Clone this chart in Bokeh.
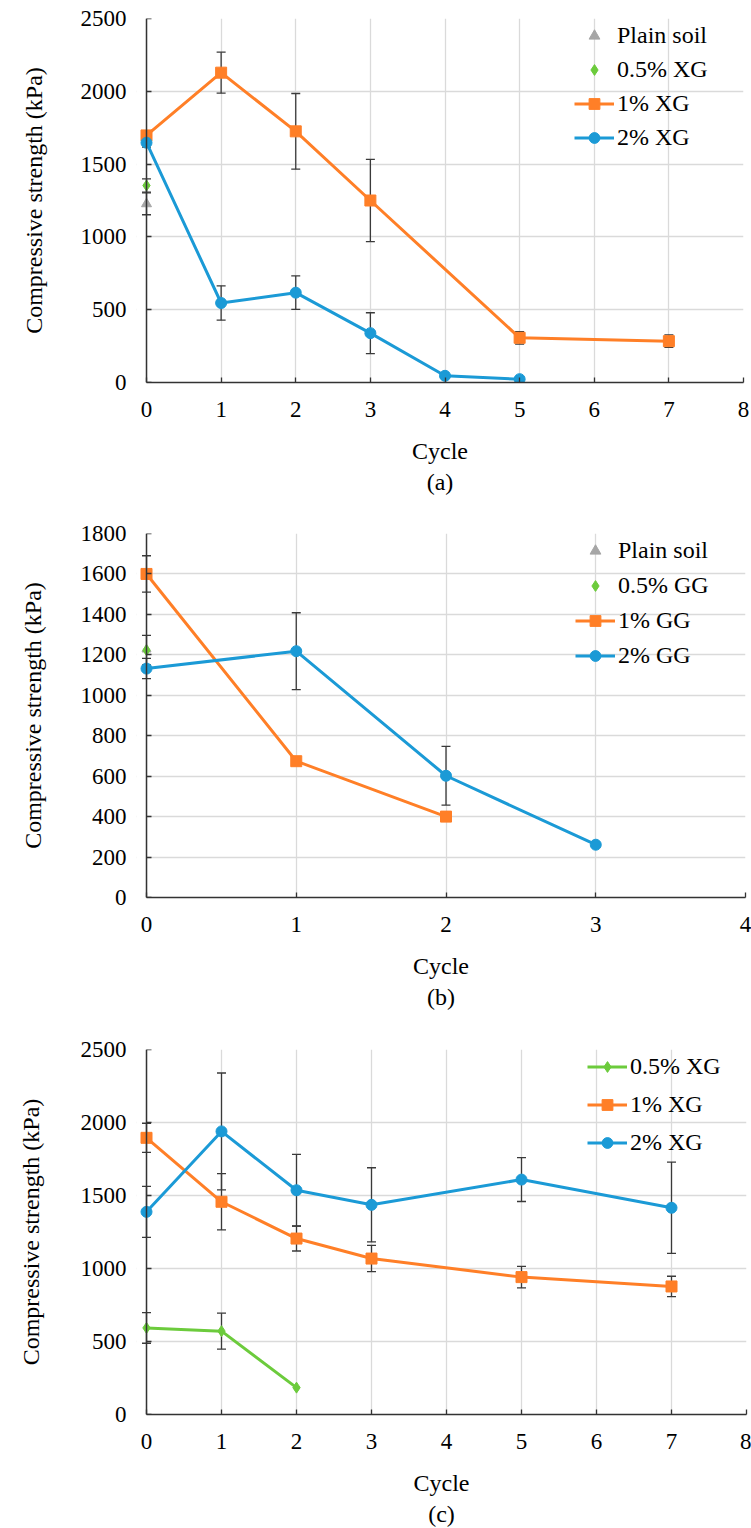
from bokeh.plotting import figure
from bokeh.models import (ColumnDataSource, Whisker, TeeHead, Legend, LegendItem,
                          BoxAnnotation, Title, FixedTicker, Range1d, LinearAxis)
from bokeh.layouts import column
from bokeh.embed import file_html
from bokeh.resources import INLINE

FONT = "'Liberation Serif', 'Times New Roman', serif"
ORANGE = "#FF7F27"
BLUE = "#1B9AD6"
GREEN = "#6CCB3C"
GRAY = "#A6A6A6"
ERRC = "#3A3A3A"
AXC = "#333333"
GRIDC = "#DADADA"

# ---------------- Panel (a): xanthan gum ----------------
a_plain_x = [0]
a_plain_y = [1227]
a_plain_err = [75]
a_xg05_x = [0]
a_xg05_y = [1353]
a_xg05_err = [45]
a_xg1_x = [0, 1, 2, 3, 5, 7]
a_xg1_y = [1697, 2128, 1725, 1250, 307, 284]
a_xg1_err = [30, 141, 260, 282, 43, 43]
a_xg2_x = [0, 1, 2, 3, 4, 5]
a_xg2_y = [1647, 546, 617, 339, 46, 23]
a_xg2_err = [30, 118, 115, 140, 0, 0]
a_labels = ["Plain soil", "0.5% XG", "1% XG", "2% XG"]

# ---------------- Panel (b): guar gum ----------------
b_plain_x = [0]
b_plain_y = [1227]
b_plain_err = [0]
b_gg05_x = [0]
b_gg05_y = [1223]
b_gg05_err = [73]
b_gg1_x = [0, 1, 2]
b_gg1_y = [1600, 674, 400]
b_gg1_err = [90, 0, 0]
b_gg2_x = [0, 1, 2, 3]
b_gg2_y = [1132, 1218, 602, 261]
b_gg2_err = [50, 190, 145, 0]
b_labels = ["Plain soil", "0.5% GG", "1% GG", "2% GG"]

# ---------------- Panel (c): xanthan gum ----------------
c_xg05_x = [0, 1, 2]
c_xg05_y = [593, 571, 184]
c_xg05_err = [105, 123, 0]
c_xg1_x = [0, 1, 2, 3, 5, 7]
c_xg1_y = [1895, 1457, 1205, 1068, 941, 877]
c_xg1_err = [100, 193, 85, 90, 74, 70]
c_xg2_x = [0, 1, 2, 3, 5, 7]
c_xg2_y = [1388, 1939, 1536, 1436, 1609, 1416]
c_xg2_err = [175, 400, 245, 254, 150, 313]
c_labels = ["0.5% XG", "1% XG", "2% XG"]

PAD = 10


def style_axis(ax):
    ax.major_label_text_font = FONT
    ax.major_label_text_font_size = "23px"
    ax.major_label_text_color = "black"
    ax.axis_label_text_font = FONT
    ax.axis_label_text_font_size = "24px"
    ax.axis_label_text_font_style = "normal"
    ax.axis_label_text_color = "black"
    ax.minor_tick_line_color = None


def make_panel(fr_left, fr_right, top_border, fr_height, bottom_border, x_end,
               y_end, y_step, series, legend_xy, legend_spacing, tag,
               ylab_standoff, ylab_shift_px):
    ppu = (fr_right - fr_left) / x_end
    x_start = -PAD / ppu
    fw = fr_right - fr_left + PAD
    mbl = fr_left - PAD
    mbr = 751 - mbl - fw
    yticks = FixedTicker(ticks=list(range(0, y_end + 1, y_step)))
    xticks = FixedTicker(ticks=list(range(0, x_end + 1)))
    p = figure(frame_width=fw, frame_height=fr_height,
               x_range=Range1d(x_start, x_end), y_range=Range1d(0, y_end),
               min_border_left=mbl, min_border_right=mbr,
               min_border_top=top_border, min_border_bottom=bottom_border,
               output_backend="svg", toolbar_location=None,
               background_fill_color="white", border_fill_color="white",
               outline_line_color=None)

    # x axis
    xa = p.xaxis[0]
    xa.ticker = xticks
    style_axis(xa)
    xa.axis_line_color = AXC
    xa.axis_line_width = 1.5
    xa.major_tick_line_color = AXC
    xa.major_tick_line_width = 1.3
    xa.major_tick_in = 5
    xa.major_tick_out = 0
    xa.axis_label = "Cycle"
    xa.bounds = (0, x_end)
    xa.major_label_standoff = 19
    xa.axis_label_standoff = 18

    # y tick labels (at frame edge, PAD px left of x=0)
    ya = p.yaxis[0]
    ya.ticker = yticks
    style_axis(ya)
    ya.axis_line_color = None
    ya.major_tick_line_color = None
    ya.major_tick_in = 0
    ya.major_tick_out = 0
    ya.major_label_standoff = 20 - PAD

    # y axis title, centred a little above the frame centre
    shift = ylab_shift_px / fr_height * y_end
    yt = LinearAxis(ticker=FixedTicker(ticks=[]), axis_line_color=None,
                    major_tick_line_color=None, minor_tick_line_color=None,
                    major_tick_in=0, major_tick_out=0,
                    bounds=(2 * shift, y_end),
                    axis_label="Compressive strength (kPa)",
                    axis_label_standoff=ylab_standoff)
    style_axis(yt)
    p.add_layout(yt, "left")

    # y axis line + ticks at x = 0
    yl = LinearAxis(ticker=yticks, fixed_location=0, axis_line_color=AXC,
                    axis_line_width=1.5, major_tick_line_color=AXC,
                    major_tick_line_width=1.3, major_tick_in=5, major_tick_out=0,
                    minor_tick_line_color=None, major_label_text_alpha=0,
                    major_label_text_font_size="1px")
    p.add_layout(yl, "left")

    p.xgrid.grid_line_color = GRIDC
    p.ygrid.grid_line_color = GRIDC
    p.xgrid.grid_line_width = 1.3
    p.ygrid.grid_line_width = 1.3
    p.ygrid.ticker = yticks
    p.xgrid.ticker = xticks

    # hide grid left of x = 0 (room for markers sitting on the axis)
    p.add_layout(BoxAnnotation(right=0, fill_color="white", fill_alpha=1.0,
                               line_alpha=0, level="underlay"))

    for s in series:
        ex = [x for x, e in zip(s["x"], s["err"]) if e > 0]
        if not ex:
            continue
        lo = [y - e for y, e in zip(s["y"], s["err"]) if e > 0]
        hi = [y + e for y, e in zip(s["y"], s["err"]) if e > 0]
        esrc = ColumnDataSource(dict(x=ex, lo=lo, hi=hi))
        w = Whisker(source=esrc, base="x", lower="lo", upper="hi",
                    line_color=ERRC, line_width=1.3, level="underlay",
                    upper_head=TeeHead(size=9, line_color=ERRC, line_width=1.3),
                    lower_head=TeeHead(size=9, line_color=ERRC, line_width=1.3))
        p.add_layout(w)

    items = []
    for s in series:
        src = ColumnDataSource(dict(x=s["x"], y=s["y"]))
        rs = []
        if s["line"]:
            rs.append(p.line("x", "y", source=src, line_color=s["color"], line_width=3))
        rs.append(p.scatter("x", "y", source=src, marker=s["marker"], size=s["size"],
                            fill_color=s["color"], line_color=s["color"]))
        items.append(LegendItem(label=s["label"], renderers=rs))

    leg = Legend(items=items, location=legend_xy, padding=0, margin=0,
                 spacing=legend_spacing, glyph_width=40, glyph_height=27,
                 label_height=27, label_standoff=3,
                 label_text_font=FONT, label_text_font_size="24px",
                 label_text_color="black",
                 background_fill_alpha=0, border_line_alpha=0)
    p.add_layout(leg)

    p.add_layout(Title(text=tag, align="center", text_font=FONT,
                       text_font_size="24px", text_font_style="normal",
                       text_color="black", standoff=0), "below")
    return p


def S(x, y, err, color, marker, size, line, label):
    return dict(x=x, y=y, err=err, color=color, marker=marker, size=size,
                line=line, label=label)


pa = make_panel(146, 743, 18, 364, 123, 8, 2500, 500, [
    S(a_plain_x, a_plain_y, a_plain_err, GRAY, "triangle", 10, False, a_labels[0]),
    S(a_xg05_x, a_xg05_y, a_xg05_err, GREEN, "diamond", 11, False, a_labels[1]),
    S(a_xg1_x, a_xg1_y, a_xg1_err, ORANGE, "square", 11, True, a_labels[2]),
    S(a_xg2_x, a_xg2_y, a_xg2_err, BLUE, "circle", 11, True, a_labels[3]),
], (438, 231), 7, "(a)", 31, 20)

pb = make_panel(141, 740, 28, 364, 124, 4, 1800, 200, [
    S(b_plain_x, b_plain_y, b_plain_err, GRAY, "triangle", 9, False, b_labels[0]),
    S(b_gg05_x, b_gg05_y, b_gg05_err, GREEN, "diamond", 11, False, b_labels[1]),
    S(b_gg1_x, b_gg1_y, b_gg1_err, ORANGE, "square", 11, True, b_labels[2]),
    S(b_gg2_x, b_gg2_y, b_gg2_err, BLUE, "circle", 11, True, b_labels[3]),
], (439, 228), 8, "(b)", 32, 21)

pc = make_panel(142, 742, 28, 365, 113, 8, 2500, 500, [
    S(c_xg05_x, c_xg05_y, c_xg05_err, GREEN, "diamond", 11, True, c_labels[0]),
    S(c_xg1_x, c_xg1_y, c_xg1_err, ORANGE, "square", 11, True, c_labels[1]),
    S(c_xg2_x, c_xg2_y, c_xg2_err, BLUE, "circle", 11, True, c_labels[2]),
], (451, 258), 11, "(c)", 34, 23)

layout = column(pa, pb, pc, spacing=0)
open("out.html", "w").write(file_html(layout, INLINE))
